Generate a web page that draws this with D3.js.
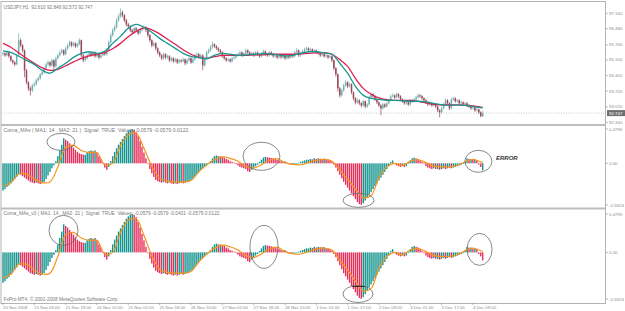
<!DOCTYPE html>
<html>
<head>
<meta charset="utf-8">
<script src="https://cdn.jsdelivr.net/npm/d3@7"></script>
<style>
  body { margin: 0; background: #fff; }
  svg { display: block; }
  text { font-family: "Liberation Sans", Arial, sans-serif; white-space: pre; }
</style>
</head>
<body>
<div id="chart-area"></div>
<script>
// USDJPY H1 candles, 20 Nov 2008 11:00 .. 4 Dec 2008
var firstOpen = 95.35;
var closes = [
  95.39,95.30,95.43,95.26,95.08,94.99,94.90,95.30,95.97,95.74,
  95.52,94.64,94.11,93.84,93.75,93.97,94.02,94.20,94.28,94.46,
  94.55,94.73,94.90,94.99,94.86,95.08,94.81,95.17,95.30,95.43,
  95.52,95.35,95.61,95.74,95.88,95.74,95.83,95.70,95.79,95.97,
  95.30,95.08,95.17,95.30,95.39,95.30,95.43,95.26,95.35,95.21,
  95.30,95.43,95.35,95.52,95.88,96.19,96.41,96.54,96.85,97.03,
  97.20,97.07,96.85,96.67,96.58,96.41,96.32,96.50,96.41,96.28,
  96.41,96.50,96.54,96.41,96.19,95.97,95.74,95.83,95.61,95.43,
  95.30,95.17,95.35,95.21,95.26,95.08,95.17,95.04,95.12,94.99,
  95.08,95.04,95.12,94.95,95.08,95.17,94.99,95.12,95.30,95.35,
  95.21,95.30,94.86,95.17,95.43,95.52,95.66,95.79,95.70,95.61,
  95.52,95.43,95.26,95.17,95.08,95.12,95.04,95.17,95.21,95.30,
  95.35,95.43,95.30,95.39,95.52,95.43,95.35,95.39,95.30,95.43,
  95.35,95.26,95.39,95.48,95.35,95.30,95.43,95.35,95.26,95.30,
  95.21,95.26,95.21,95.30,95.17,95.26,95.21,95.30,95.26,95.43,
  95.52,95.30,95.39,95.48,95.57,95.61,95.52,95.57,95.48,95.52,
  95.43,95.39,95.30,95.35,95.26,95.30,95.21,95.26,95.08,94.73,
  94.46,93.84,93.53,93.75,93.97,94.11,93.93,94.02,93.66,93.40,
  93.22,93.31,93.18,93.09,93.27,93.04,93.13,93.44,93.58,93.49,
  93.35,93.22,93.09,92.96,93.13,93.04,93.18,93.31,93.49,93.53,
  93.44,93.58,93.49,93.35,93.27,93.18,93.22,93.13,93.31,93.27,
  93.35,93.44,93.53,93.49,93.40,93.31,93.22,93.13,93.18,93.09,
  93.13,93.04,92.87,92.78,92.96,93.13,93.31,93.18,92.96,93.35,
  93.40,93.27,93.31,93.18,93.22,93.13,93.18,93.09,93.04,92.96,
  93.00,92.87,92.91,92.78,92.61,92.747
];
var highs = [
  95.45,95.44,95.50,95.47,95.30,95.12,95.04,95.37,96.28,96.05,
  95.80,95.56,94.70,94.16,93.92,94.05,94.13,94.27,94.36,94.52,
  94.63,94.80,94.98,95.08,95.05,95.16,95.12,95.24,95.38,95.52,
  95.61,95.57,95.68,95.82,95.96,95.92,95.90,95.88,95.86,96.06,
  96.00,95.36,95.25,95.37,95.46,95.44,95.50,95.48,95.42,95.39,
  95.37,95.49,95.48,95.60,95.96,96.28,96.50,96.63,96.94,97.12,
  97.38,97.28,97.12,96.92,96.74,96.64,96.47,96.57,96.56,96.46,
  96.49,96.58,96.66,96.60,96.46,96.25,96.02,95.91,95.88,95.66,
  95.49,95.36,95.42,95.40,95.33,95.31,95.24,95.22,95.19,95.17,
  95.15,95.13,95.20,95.16,95.15,95.25,95.21,95.19,95.38,95.43,
  95.40,95.37,95.34,95.24,95.50,95.60,95.74,95.92,95.84,95.75,
  95.66,95.58,95.48,95.31,95.22,95.19,95.17,95.23,95.28,95.37,
  95.42,95.51,95.47,95.45,95.60,95.57,95.48,95.46,95.44,95.50,
  95.48,95.40,95.45,95.55,95.52,95.40,95.50,95.48,95.40,95.36,
  95.35,95.32,95.30,95.36,95.34,95.32,95.31,95.36,95.35,95.50,
  95.62,95.56,95.46,95.55,95.64,95.69,95.66,95.63,95.61,95.58,
  95.56,95.48,95.44,95.41,95.39,95.36,95.34,95.32,95.30,95.12,
  94.78,94.50,93.90,93.83,94.06,94.20,94.16,94.10,94.07,93.71,
  93.46,93.39,93.36,93.23,93.34,93.31,93.20,93.52,93.66,93.63,
  93.54,93.40,93.27,93.14,93.20,93.18,93.25,93.38,93.57,93.62,
  93.58,93.66,93.63,93.54,93.40,93.32,93.29,93.27,93.38,93.36,
  93.42,93.51,93.62,93.59,93.54,93.45,93.36,93.27,93.25,93.23,
  93.20,93.18,93.09,92.92,93.03,93.20,93.40,93.36,93.22,93.42,
  93.48,93.45,93.38,93.36,93.29,93.27,93.25,93.23,93.15,93.10,
  93.07,93.05,92.98,92.95,92.83,92.846
];
var lows = [
  95.28,95.24,95.26,95.19,95.01,94.90,94.82,94.86,95.26,95.66,
  95.44,94.33,94.02,93.72,93.53,93.68,93.90,93.96,94.13,94.22,
  94.40,94.49,94.68,94.84,94.78,94.80,94.64,94.76,95.12,95.25,
  95.37,95.28,95.30,95.55,95.68,95.66,95.69,95.62,95.64,95.74,
  95.22,94.99,95.02,95.11,95.25,95.23,95.26,95.19,95.20,95.13,
  95.16,95.25,95.28,95.30,95.47,95.82,96.12,96.35,96.48,96.78,
  96.96,96.98,96.77,96.58,96.48,96.33,96.24,96.27,96.34,96.20,
  96.22,96.36,96.44,96.33,96.10,95.88,95.65,95.68,95.52,95.35,
  95.22,95.09,95.11,95.14,95.15,95.00,95.02,94.96,94.98,94.91,
  94.93,94.97,94.99,94.86,94.90,95.03,94.92,94.94,95.07,95.25,
  95.14,95.16,94.64,94.80,95.12,95.37,95.46,95.60,95.63,95.54,
  95.45,95.36,95.19,95.10,95.01,95.02,94.97,94.99,95.11,95.15,
  95.25,95.29,95.23,95.24,95.33,95.36,95.28,95.29,95.23,95.26,
  95.28,95.19,95.21,95.33,95.28,95.23,95.25,95.29,95.19,95.20,
  95.14,95.16,95.15,95.16,95.10,95.12,95.14,95.16,95.19,95.21,
  95.38,95.22,95.24,95.33,95.42,95.51,95.45,95.47,95.41,95.43,
  95.36,95.32,95.23,95.25,95.19,95.20,95.14,95.16,95.00,94.64,
  94.36,93.70,93.44,93.47,93.69,93.91,93.85,93.87,93.58,93.31,
  93.13,93.16,93.10,93.00,93.03,92.96,92.98,93.08,93.38,93.42,
  93.28,93.14,93.01,92.65,92.90,92.97,92.99,93.13,93.26,93.44,
  93.37,93.39,93.42,93.28,93.20,93.11,93.12,93.06,93.08,93.20,
  93.22,93.30,93.39,93.42,93.33,93.24,93.15,93.06,93.08,93.02,
  93.03,92.96,92.79,92.56,92.72,92.91,93.08,93.11,92.88,92.91,
  93.29,93.20,93.21,93.11,93.12,93.06,93.08,93.02,92.97,92.88,
  92.90,92.80,92.82,92.71,92.57,92.573
];

// moving averages and signal line, read every 4th bar
var sampleBars = d3.range(0, 245, 4).concat([245]);
var maFast = [
  95.50,95.43,95.26,95.08,94.90,94.64,94.51,94.73,94.95,95.21,
  95.39,95.46,95.39,95.48,95.83,96.14,96.50,96.67,96.54,96.32,
  96.05,95.83,95.61,95.39,95.26,95.21,95.15,95.30,95.39,95.35,
  95.30,95.32,95.35,95.37,95.37,95.32,95.28,95.30,95.39,95.46,
  95.46,95.41,95.35,94.95,94.51,93.93,93.53,93.40,93.35,93.31,
  93.31,93.29,93.27,93.27,93.24,93.18,93.11,93.09,93.11,93.09,
  93.04,92.99,92.98
];
var maSlow = [
  95.83,95.66,95.41,95.17,94.95,94.75,94.64,94.68,94.84,95.01,
  95.17,95.28,95.35,95.43,95.59,95.83,96.12,96.36,96.52,96.43,
  96.25,96.01,95.79,95.55,95.35,95.21,95.17,95.24,95.30,95.30,
  95.30,95.30,95.32,95.32,95.35,95.35,95.35,95.35,95.37,95.39,
  95.41,95.41,95.35,95.12,94.81,94.28,93.84,93.58,93.42,93.34,
  93.31,93.31,93.31,93.27,93.20,93.13,93.11,93.11,93.11,93.09,
  93.06,93.01,93.00
];
var signal = [
  -0.32,-0.27,-0.15,-0.15,-0.22,-0.27,-0.26,-0.05,0.22,0.25,
  0.18,0.15,0.15,-0.02,0.00,0.25,0.40,0.42,0.21,-0.04,
  -0.21,-0.25,-0.26,-0.26,-0.24,-0.12,-0.02,0.05,0.09,0.07,
  0.03,-0.04,-0.065,-0.02,0.04,0.065,0.01,-0.015,-0.02,0.01,
  0.04,0.055,0.03,-0.10,-0.22,-0.36,-0.48,-0.45,-0.20,-0.05,
  0.00,-0.03,0.03,0.05,0.01,-0.04,-0.05,-0.05,-0.03,0.02,
  0.055,0.02,0.01
];

// Coma_MAs histogram, one value per bar
var comaValues = [
  -0.38,-0.36,-0.33,-0.31,-0.28,-0.25,-0.22,-0.19,-0.15,-0.16,
  -0.18,-0.20,-0.22,-0.24,-0.26,-0.27,-0.28,-0.27,-0.28,-0.29,
  -0.28,-0.26,-0.22,-0.17,-0.12,-0.07,-0.03,0.03,0.10,0.18,
  0.26,0.35,0.33,0.31,0.28,0.25,0.22,0.19,0.16,0.14,
  0.13,0.12,0.12,0.15,0.17,0.18,0.17,0.18,0.15,0.10,
  0.06,0.00,-0.06,-0.09,-0.05,0.03,0.10,0.16,0.21,0.26,
  0.30,0.34,0.38,0.42,0.45,0.47,0.48,0.47,0.44,0.38,
  0.31,0.23,0.15,0.07,-0.01,-0.08,-0.14,-0.19,-0.23,-0.25,
  -0.26,-0.27,-0.26,-0.27,-0.28,-0.27,-0.28,-0.29,-0.28,-0.29,
  -0.28,-0.27,-0.28,-0.27,-0.26,-0.25,-0.23,-0.21,-0.18,-0.15,
  -0.12,-0.09,-0.07,-0.05,-0.03,-0.01,0.03,0.07,0.10,0.11,
  0.10,0.10,0.09,0.08,0.06,0.05,0.03,0.02,0.01,-0.01,
  -0.03,-0.05,-0.06,-0.07,-0.08,-0.11,-0.12,-0.09,-0.06,-0.04,
  -0.02,0.02,0.05,0.08,0.09,0.085,0.08,0.075,0.07,0.06,
  0.05,0.04,0.03,0.02,0.03,0.01,-0.01,-0.02,-0.015,-0.01,
  0.00,0.01,0.02,0.03,0.04,0.05,0.05,0.06,0.055,0.07,
  0.06,0.07,0.065,0.06,0.065,0.05,0.045,0.04,0.02,-0.02,
  -0.06,-0.11,-0.16,-0.21,-0.26,-0.30,-0.34,-0.38,-0.42,-0.46,
  -0.50,-0.54,-0.57,-0.58,-0.56,-0.52,-0.48,-0.44,-0.40,-0.36,
  -0.32,-0.28,-0.24,-0.20,-0.16,-0.12,-0.08,-0.04,0.02,0.04,
  -0.01,-0.03,-0.04,-0.05,-0.04,-0.05,-0.04,-0.01,0.04,0.07,
  0.08,0.07,0.06,0.04,0.02,-0.01,-0.04,-0.06,-0.07,-0.08,
  -0.07,-0.08,-0.08,-0.09,-0.08,-0.07,-0.08,-0.07,-0.06,-0.07,
  -0.06,-0.05,-0.04,-0.03,-0.02,-0.01,0.03,0.07,0.06,0.06,
  0.05,0.05,0.04,-0.02,-0.05,-0.10
];
var errorBar = 245; // bar drawn in the wrong colour in the first window

var timeLabels = ["20 Nov 2008", "21 Nov 03:00", "21 Nov 19:00", "24 Nov 10:00",
  "25 Nov 02:00", "25 Nov 18:00", "26 Nov 10:00", "27 Nov 02:00", "27 Nov 18:00",
  "28 Nov 10:00", "1 Dec 01:00", "1 Dec 17:00", "2 Dec 09:00", "3 Dec 01:00",
  "3 Dec 17:00", "4 Dec 09:00"];
var timeLabelBars = d3.range(0, 241, 16);
var priceTicks = [97.16, 96.48, 95.76, 95.10, 94.40, 93.72, 93.02, 92.34];
var comaTicks = [0.4795, 0.00, -0.5824];
var lastPrice = 92.747;

var rings = [
  { pane: 1, bar: 29.6, value: 0.30, rx: 14, ry: 8.5 },
  { pane: 1, bar: 132, value: 0.098, rx: 18.5, ry: 14 },
  { pane: 1, bar: 181.6, value: -0.517, rx: 15.5, ry: 7 },
  { pane: 1, bar: 242.8, value: 0.028, rx: 13.5, ry: 11 },
  { pane: 2, bar: 30.9, value: 0.275, rx: 14.5, ry: 15 },
  { pane: 2, bar: 133.3, value: 0.069, rx: 14, ry: 21.5 },
  { pane: 2, bar: 181.3, value: -0.52, rx: 15, ry: 8.5 },
  { pane: 2, bar: 243.4, value: 0.0375, rx: 12.5, ry: 16 }
];

var width = 625;
var height = 311;
var left = 1, right = 605.5;
var teal = "#14948d", red = "#e6305c", orange = "#f7941d";
var axisGrey = "#8c8c8c";

var svg = d3.select("#chart-area")
  .append("svg")
  .attr("width", width)
  .attr("height", height)
  .style("background-color", "white");

var x = d3.scaleLinear()
  .domain([0, closes.length - 1])
  .range([3, 3 + 1.958 * (closes.length - 1)]);

var yMain = d3.scaleLinear().domain([92.34, 97.16]).range([122.3, 13.3]);
var y1 = d3.scaleLinear().domain([-0.5824, 0.4795]).range([205, 129]);
var y2 = d3.scaleLinear().domain([-0.5824, 0.4795]).range([299, 214]);

// frame and window separators
svg.append("rect")
  .attr("x", left).attr("y", 1.5)
  .attr("width", right - left).attr("height", 302)
  .attr("fill", "none")
  .attr("stroke", "#b4b4b4")
  .attr("stroke-width", 1);

[125, 208.5].forEach(function(sy) {
  svg.append("rect")
    .attr("x", left).attr("y", sy - 1)
    .attr("width", right - left).attr("height", 2)
    .attr("fill", "#bdbdbd");
});

var defs = svg.append("defs");
defs.append("clipPath").attr("id", "clip-main")
  .append("rect").attr("x", left).attr("y", 2).attr("width", right - left).attr("height", 122);

// ---- main window ----
var main = svg.append("g").attr("clip-path", "url(#clip-main)");

main.append("line")
  .attr("x1", left).attr("x2", right)
  .attr("y1", yMain(lastPrice)).attr("y2", yMain(lastPrice))
  .attr("stroke", "#b8c4cc")
  .attr("stroke-width", 0.8)
  .attr("stroke-dasharray", "1,1.5");

var candles = closes.map(function(c, i) {
  return { i: i, o: i === 0 ? firstOpen : closes[i - 1], h: highs[i], l: lows[i], c: c };
});

function candleColor(d) { return d.c >= d.o ? "#6fb0b0" : "#9a4658"; }

main.selectAll(".wick")
  .data(candles)
  .enter().append("line")
  .attr("class", "wick")
  .attr("x1", function(d) { return x(d.i); })
  .attr("x2", function(d) { return x(d.i); })
  .attr("y1", function(d) { return yMain(d.h); })
  .attr("y2", function(d) { return yMain(d.l); })
  .attr("stroke", candleColor)
  .attr("stroke-width", 0.7);

main.selectAll(".body")
  .data(candles)
  .enter().append("rect")
  .attr("class", "body")
  .attr("x", function(d) { return x(d.i) - 0.75; })
  .attr("width", 1.5)
  .attr("y", function(d) { return yMain(Math.max(d.o, d.c)); })
  .attr("height", function(d) { return Math.max(0.6, Math.abs(yMain(d.o) - yMain(d.c))); })
  .attr("fill", candleColor);

var maLine = function(vals) {
  return d3.line()
    .x(function(d, k) { return x(sampleBars[k]); })
    .y(function(d) { return yMain(d); })
    .curve(d3.curveCatmullRom)(vals);
};

main.append("path")
  .attr("d", maLine(maSlow))
  .attr("fill", "none")
  .attr("stroke", "#e0204e")
  .attr("stroke-width", 1.3);

main.append("path")
  .attr("d", maLine(maFast))
  .attr("fill", "none")
  .attr("stroke", "#169890")
  .attr("stroke-width", 1.3);

// ---- indicator windows ----
function drawComa(y, pane) {
  var g = svg.append("g");
  g.selectAll("rect")
    .data(comaValues)
    .enter().append("rect")
    .attr("x", function(d, i) { return x(i) - 0.7; })
    .attr("width", 1.4)
    .attr("y", function(d) { return Math.min(y(0), y(d)); })
    .attr("height", function(d) { return Math.max(0.5, Math.abs(y(d) - y(0))); })
    .attr("fill", function(d, i) {
      if (pane === 1 && i === errorBar) return teal;
      var prev = i === 0 ? d - 0.01 : comaValues[i - 1];
      return d >= prev ? teal : red;
    });

  g.append("path")
    .attr("d", d3.line()
      .x(function(d, k) { return x(sampleBars[k]); })
      .y(function(d) { return y(d); })
      .curve(d3.curveCatmullRom)(signal))
    .attr("fill", "none")
    .attr("stroke", orange)
    .attr("stroke-width", 1.2);

  g.selectAll("ellipse")
    .data(rings.filter(function(r) { return r.pane === pane; }))
    .enter().append("ellipse")
    .attr("cx", function(d) { return x(d.bar); })
    .attr("cy", function(d) { return y(d.value); })
    .attr("rx", function(d) { return d.rx; })
    .attr("ry", function(d) { return d.ry; })
    .attr("fill", "none")
    .attr("stroke", "#6a6a6a")
    .attr("stroke-width", 0.8);

  comaTicks.forEach(function(t) {
    svg.append("line")
      .attr("x1", right).attr("x2", right + 2.5)
      .attr("y1", y(t)).attr("y2", y(t))
      .attr("stroke", axisGrey).attr("stroke-width", 0.6);
    svg.append("text")
      .attr("x", right + 3.5)
      .attr("y", y(t))
      .attr("dy", "0.35em")
      .attr("font-size", "4.4px")
      .attr("fill", axisGrey)
      .text(t === 0 ? "0.00" : t.toFixed(4));
  });
  return g;
}

drawComa(y1, 1);
var pane2 = drawComa(y2, 2);

// small black level mark drawn inside the second window
pane2.append("line")
  .attr("x1", x(178.3)).attr("x2", x(184.8))
  .attr("y1", y2(-0.425)).attr("y2", y2(-0.425))
  .attr("stroke", "#111").attr("stroke-width", 0.8);

svg.append("text")
  .attr("x", 496).attr("y", 160)
  .attr("font-size", "6px")
  .attr("font-weight", "bold")
  .attr("font-style", "italic")
  .attr("fill", "#333")
  .text("ERROR");

// ---- price axis ----
priceTicks.forEach(function(p) {
  svg.append("line")
    .attr("x1", right).attr("x2", right + 2.5)
    .attr("y1", yMain(p)).attr("y2", yMain(p))
    .attr("stroke", axisGrey).attr("stroke-width", 0.6);
  svg.append("text")
    .attr("x", right + 3.5)
    .attr("y", yMain(p))
    .attr("dy", "0.35em")
    .attr("font-size", "4.4px")
    .attr("fill", axisGrey)
    .text(p.toFixed(3));
});

svg.append("rect")
  .attr("x", right + 1.5).attr("y", yMain(lastPrice) - 3)
  .attr("width", 18).attr("height", 6)
  .attr("fill", "#6e6e6e");
svg.append("text")
  .attr("x", right + 3.5)
  .attr("y", yMain(lastPrice))
  .attr("dy", "0.35em")
  .attr("font-size", "4.4px")
  .attr("fill", "white")
  .text(lastPrice.toFixed(3));

// ---- time axis ----
timeLabels.forEach(function(label, k) {
  var tx = x(timeLabelBars[k]);
  svg.append("line")
    .attr("x1", tx).attr("x2", tx)
    .attr("y1", 303).attr("y2", 305)
    .attr("stroke", axisGrey).attr("stroke-width", 0.6);
  svg.append("text")
    .attr("x", tx)
    .attr("y", 307.5)
    .attr("dy", "0.35em")
    .attr("font-size", "4.3px")
    .attr("fill", axisGrey)
    .text(label);
});

// ---- window captions ----
var captions = [
  { text: "USDJPY,H1  92.610 92.846 92.573 92.747", y: 7, len: 89 },
  { text: "Coma_MAs ( MA1: 14 , MA2: 21 )  Signal: TRUE  Values: 0.0579 -0.0579 0.0122", y: 130.5, len: 185 },
  { text: "Coma_MAs_v3 ( MA1: 14 , MA2: 21 )  Signal: TRUE  Values: -0.0579 -0.0579 -0.0431 -0.0579 0.0122", y: 213.5, len: 216 },
  { text: "FxPro MT4, \u00a9 2001-2008 MetaQuotes Software Corp.", y: 299, len: 115 }
];
captions.forEach(function(c) {
  svg.append("text")
    .attr("x", 3.5)
    .attr("y", c.y)
    .attr("dy", "0.35em")
    .attr("font-size", "4.6px")
    .attr("fill", "#7a7a7a")
    .attr("textLength", c.len)
    .attr("lengthAdjust", "spacingAndGlyphs")
    .text(c.text);
});
</script>
</body>
</html>
